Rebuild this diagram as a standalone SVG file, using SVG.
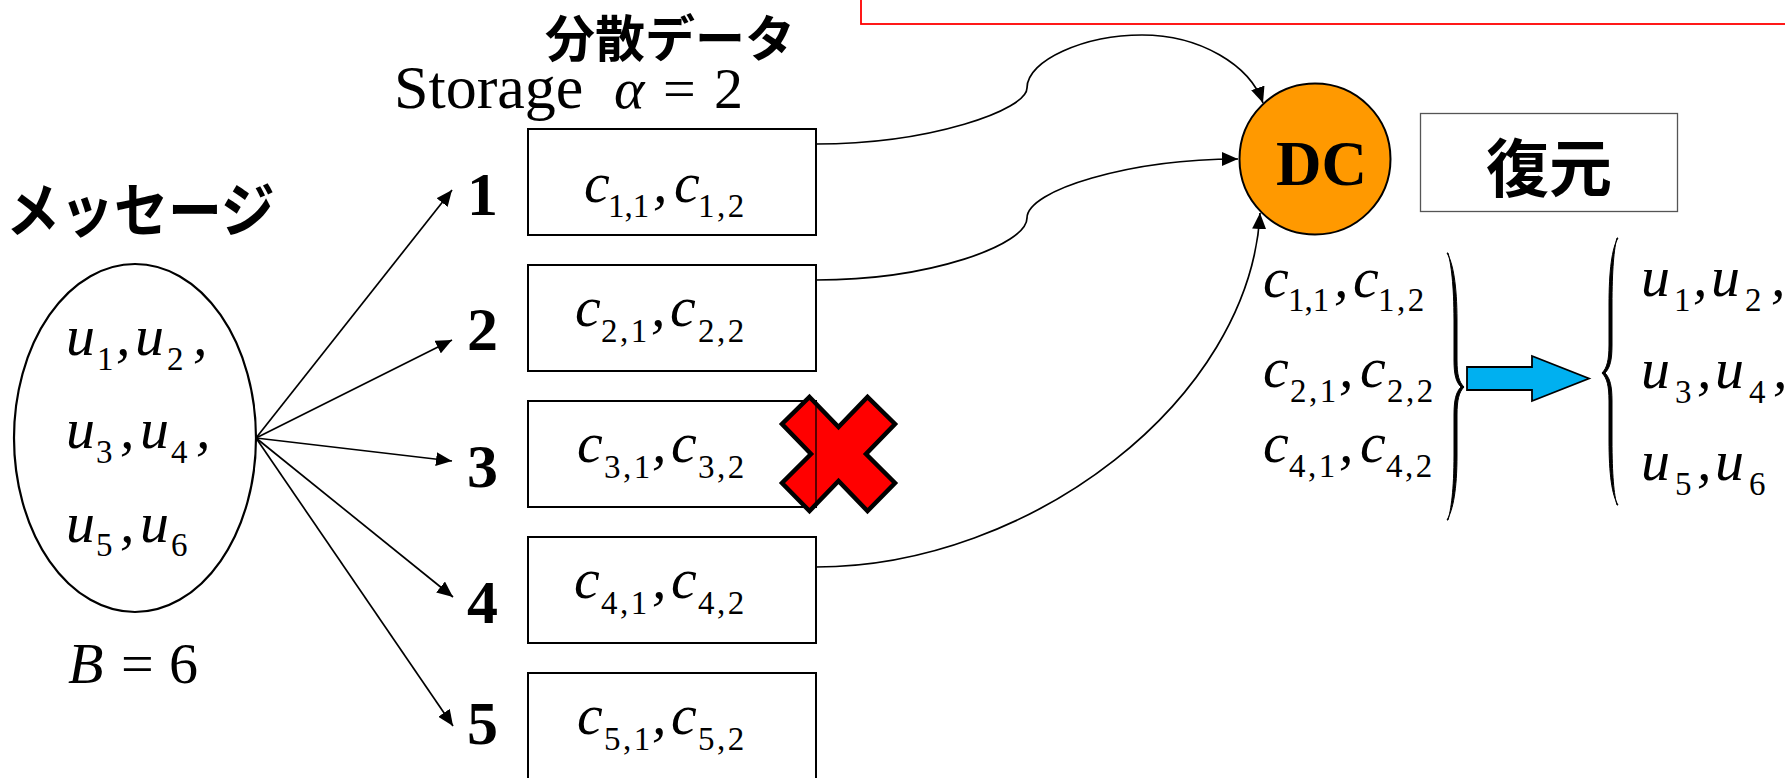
<svg xmlns="http://www.w3.org/2000/svg" width="1785" height="778" viewBox="0 0 1785 778">
<style>
text{fill:#000;font-family:"Liberation Serif","Noto Sans CJK JP",serif}
.m{font-size:58px;font-style:italic}
.s{font-size:33px;letter-spacing:2.500px}
.t{letter-spacing:0}
.r{font-size:58px}
.n{font-size:62px;font-weight:bold}
.j{font-family:"Noto Sans CJK JP","Noto Sans CJK SC",sans-serif;font-weight:bold}
.box{fill:#fff;stroke:#000;stroke-width:2}
.ln{fill:none;stroke:#000;stroke-width:1.7}
</style>
<defs>
<marker id="ah" markerUnits="userSpaceOnUse" markerWidth="18" markerHeight="14" refX="16" refY="7" orient="auto"><path d="M0 0L16 7L0 14Z" fill="#000"/></marker>
</defs>
<rect id="redframe" x="861" y="-20" width="960" height="44" fill="#fff" stroke="#f00" stroke-width="1.800"/>
<g id="title-data"><text class="j" x="545" y="57" font-size="50">分散データ</text></g>
<g id="storage"><text x="394" y="108" style="font-size:62px">Storage</text><text class="m" x="614" y="108">α</text><text class="r" x="663" y="108">=</text><text class="r" x="714" y="108">2</text></g>
<g id="title-msg"><text class="j" transform="translate(6,232) scale(1,1.100)" font-size="54">メッセージ</text></g>
<g id="message">
<ellipse cx="135" cy="438" rx="121" ry="174" fill="#fff" stroke="#000" stroke-width="2.200"/>
<text class="m"><tspan x="66" y="355">u</tspan><tspan x="116" y="355">,</tspan><tspan x="135" y="355">u</tspan><tspan x="193" y="355">,</tspan><tspan x="66" y="448">u</tspan><tspan x="120" y="448">,</tspan><tspan x="140" y="448">u</tspan><tspan x="196" y="448">,</tspan><tspan x="66" y="542">u</tspan><tspan x="120" y="542">,</tspan><tspan x="140" y="542">u</tspan></text>
<text class="s"><tspan x="97" y="370">1</tspan><tspan x="167" y="370">2</tspan><tspan x="96" y="463">3</tspan><tspan x="171" y="463">4</tspan><tspan x="96" y="556">5</tspan><tspan x="171" y="556">6</tspan></text>
</g>
<g id="b-eq"><text class="m" x="68" y="683">B</text><text class="r" x="121" y="683">=</text><text class="r" x="169" y="683">6</text></g>
<g id="connectors">
<g class="ln">
<path d="M256 438L452 190" marker-end="url(#ah)"/>
<path d="M256 438L452 340" marker-end="url(#ah)"/>
<path d="M256 438L452 461" marker-end="url(#ah)"/>
<path d="M256 438L453 597" marker-end="url(#ah)"/>
<path d="M256 438L453 726" marker-end="url(#ah)"/>
<path d="M816 144C930 144 1027 110 1027 88C1027 60 1085 35 1142 35C1200 35 1250 65 1263 103" marker-end="url(#ah)"/>
<path d="M816 280C930 280 1027 245 1027 218C1027 190 1130 159 1238 159" marker-end="url(#ah)"/>
<path d="M816 567C1030 567 1250 400 1260 213" marker-end="url(#ah)"/>
</g>
</g>
<g id="node1"><rect class="box" x="528" y="129" width="288" height="106"/><text class="n" x="467" y="215">1</text><text class="m"><tspan x="584" y="202">c</tspan><tspan x="653" y="202">,</tspan><tspan x="674" y="202">c</tspan></text><text class="s"><tspan class="t" x="608" y="217">1,1</tspan><tspan x="698" y="217">1,2</tspan></text></g>
<g id="node2"><rect class="box" x="528" y="265" width="288" height="106"/><text class="n" x="467" y="350">2</text><text class="m"><tspan x="575" y="326">c</tspan><tspan x="651" y="326">,</tspan><tspan x="670" y="326">c</tspan></text><text class="s"><tspan x="601" y="342">2,1</tspan><tspan x="698" y="342">2,2</tspan></text></g>
<g id="node3"><rect class="box" x="528" y="401" width="288" height="106"/><text class="n" x="467" y="487">3</text><text class="m"><tspan x="577" y="462">c</tspan><tspan x="652" y="462">,</tspan><tspan x="671" y="462">c</tspan></text><text class="s"><tspan x="604" y="478">3,1</tspan><tspan x="698" y="478">3,2</tspan></text></g>
<g id="node4"><rect class="box" x="528" y="537" width="288" height="106"/><text class="n" x="467" y="623">4</text><text class="m"><tspan x="574" y="598">c</tspan><tspan x="652" y="598">,</tspan><tspan x="671" y="598">c</tspan></text><text class="s"><tspan x="601" y="614">4,1</tspan><tspan x="698" y="614">4,2</tspan></text></g>
<g id="node5"><rect class="box" x="528" y="673" width="288" height="130"/><text class="n" x="467" y="744">5</text><text class="m"><tspan x="577" y="734">c</tspan><tspan x="652" y="734">,</tspan><tspan x="671" y="734">c</tspan></text><text class="s"><tspan x="604" y="750">5,1</tspan><tspan x="698" y="750">5,2</tspan></text></g>
<g id="cross"><path d="M809.500 397L838.500 427L867.500 397L895 424L866 454L895 483L867.500 511L838.500 481L809.500 511L782 483L811 454L782 424Z" fill="#f00" stroke="#000" stroke-width="4.500" stroke-linejoin="miter"/><path d="M816 403V505" stroke="#000" stroke-width="1.300"/></g>
<g id="dc"><circle cx="1315" cy="159" r="75.500" fill="#FF9900" stroke="#000" stroke-width="2"/><text x="1276" y="185" style="font-size:63px;font-weight:bold">DC</text></g>
<g id="restore"><rect x="1420.500" y="113.500" width="257" height="98" fill="#fff" stroke="#555" stroke-width="1.300"/><text class="j" x="1486" y="191" font-size="63">復元</text></g>
<g id="received">
<text class="m"><tspan x="1263" y="297">c</tspan><tspan x="1334" y="297">,</tspan><tspan x="1353" y="297">c</tspan><tspan x="1263" y="387">c</tspan><tspan x="1339" y="387">,</tspan><tspan x="1360" y="387">c</tspan><tspan x="1263" y="462">c</tspan><tspan x="1339" y="462">,</tspan><tspan x="1360" y="462">c</tspan></text>
<text class="s"><tspan class="t" x="1288" y="311">1,1</tspan><tspan x="1378" y="311">1,2</tspan><tspan x="1290" y="402">2,1</tspan><tspan x="1387" y="402">2,2</tspan><tspan x="1289" y="477">4,1</tspan><tspan x="1386" y="477">4,2</tspan></text>
<path d="M1447 253C1453 263 1457 285 1457 320V360C1457 375 1459 382 1464 387C1459 392 1457 400 1457 415V455C1457 490 1453 510 1447 520L1448 520C1451 510 1454 490 1454 455V415C1454 400 1456 392 1461 387C1456 382 1454 375 1454 360V320C1454 285 1451 263 1448 253Z" fill="#000" stroke="#000" stroke-width="1"/>
</g>
<path id="blue-arrow" d="M1467 367H1532V356L1589 378.500L1532 401V390H1467Z" fill="#00B0F0" stroke="#000" stroke-width="1.800"/>
<g id="decoded">
<path d="M1618 238C1612 248 1609 270 1609 305V345C1609 360 1607 368 1602 373C1607 378 1609 386 1609 401V440C1609 475 1612 495 1618 505L1617 505C1614 495 1612 475 1612 440V401C1612 386 1610 378 1605 373C1610 368 1612 360 1612 345V305C1612 270 1614 248 1617 238Z" fill="#000" stroke="#000" stroke-width="1"/>
<text class="m"><tspan x="1641" y="296">u</tspan><tspan x="1693" y="296">,</tspan><tspan x="1711" y="296">u</tspan><tspan x="1771" y="296">,</tspan><tspan x="1641" y="388">u</tspan><tspan x="1697" y="388">,</tspan><tspan x="1715" y="388">u</tspan><tspan x="1773" y="388">,</tspan><tspan x="1641" y="480">u</tspan><tspan x="1697" y="480">,</tspan><tspan x="1715" y="480">u</tspan></text>
<text class="s"><tspan x="1674" y="311">1</tspan><tspan x="1745" y="311">2</tspan><tspan x="1675" y="403">3</tspan><tspan x="1749" y="403">4</tspan><tspan x="1675" y="495">5</tspan><tspan x="1749" y="495">6</tspan></text>
</g>
</svg>
